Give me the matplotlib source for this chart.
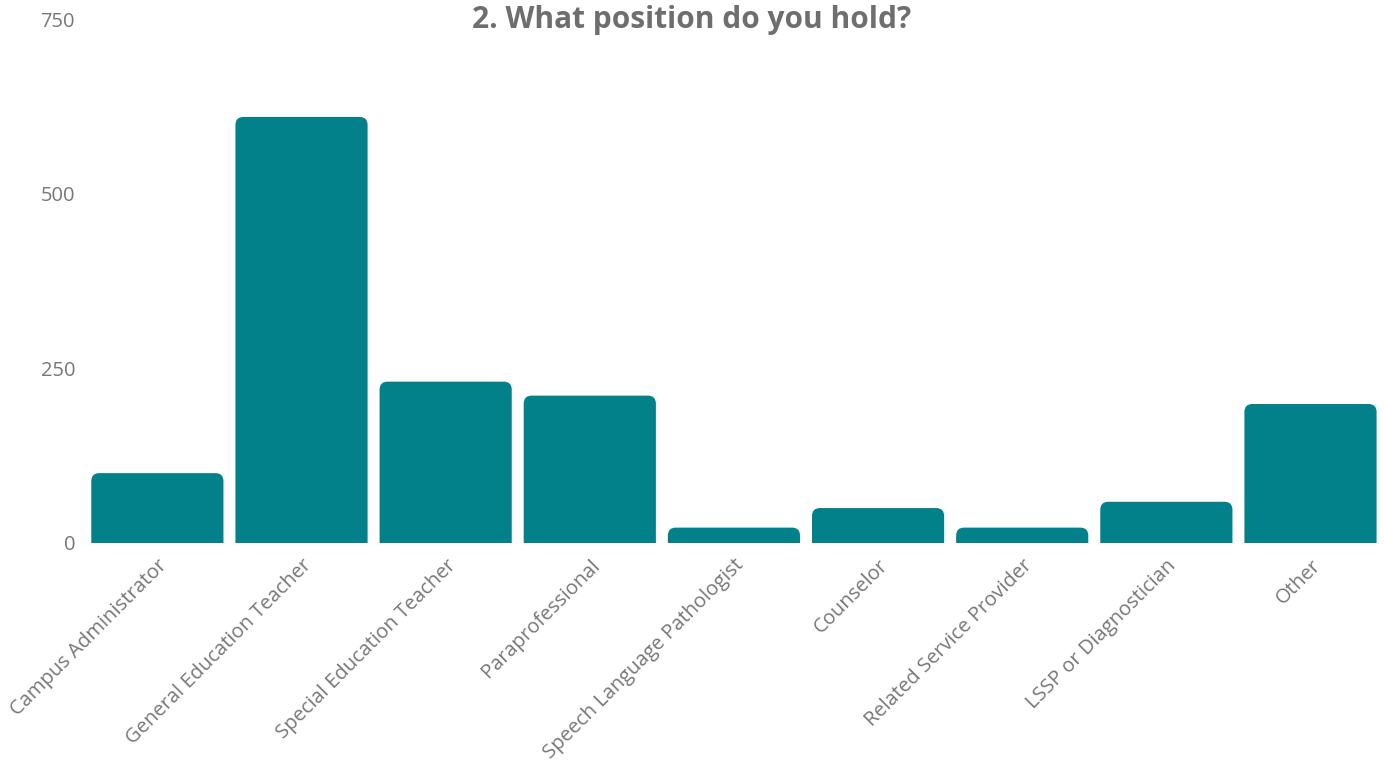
import matplotlib.pyplot as plt
from matplotlib.patches import FancyBboxPatch

# Respuestas por puesto
positions = [
    "Campus Administrator",
    "General Education Teacher",
    "Special Education Teacher",
    "Paraprofessional",
    "Speech Language Pathologist",
    "Counselor",
    "Related Service Provider",
    "LSSP or Diagnostician",
    "Other",
]
counts = [100, 610, 231, 211, 22, 50, 22, 59, 199]
y_ticks = [0, 250, 500, 750]

bar_color = "#02818a"
text_color = "#777777"

plt.rcParams["font.family"] = ["Open Sans", "DejaVu Sans"]

fig = plt.figure(figsize=(13.84, 7.68), dpi=100)
ax = fig.add_axes([0.0658, 0.293, 0.929, 0.682])

x = list(range(len(positions)))
bars = ax.bar(x, counts, width=0.917, color=bar_color)

ax.set_xlim(-0.46, len(positions) - 1 + 0.46)
ax.set_ylim(0, 750)

# Barras con esquinas superiores redondeadas (las inferiores quedan recortadas bajo el 0)
r_x = 0.055
aspect = 11.5 / r_x
for rect in bars:
    rect.set_visible(False)
    bx, bw, bh = rect.get_x(), rect.get_width(), rect.get_height()
    patch = FancyBboxPatch(
        (bx, -30), bw, bh + 30,
        boxstyle=f"round,pad=0,rounding_size={r_x}",
        mutation_aspect=aspect,
        facecolor=bar_color, edgecolor="none", clip_on=True,
    )
    ax.add_patch(patch)

ax.set_yticks(y_ticks)
ax.set_yticklabels([str(v) for v in y_ticks])
ax.set_xticks(x)
ax.set_xticklabels(positions, rotation=45, ha="right", va="top",
                   rotation_mode="anchor")
ax.tick_params(axis="both", length=0, labelsize=14.5, labelcolor=text_color)
ax.tick_params(axis="y", pad=11.5)
ax.tick_params(axis="x", pad=9)

for s in ax.spines.values():
    s.set_visible(False)

fig.suptitle("2. What position do you hold?", x=0.5, y=0.993,
             fontsize=21.5, fontweight="bold", color="#6e6e6e", va="top")

fig.savefig("out.png", dpi=100)
